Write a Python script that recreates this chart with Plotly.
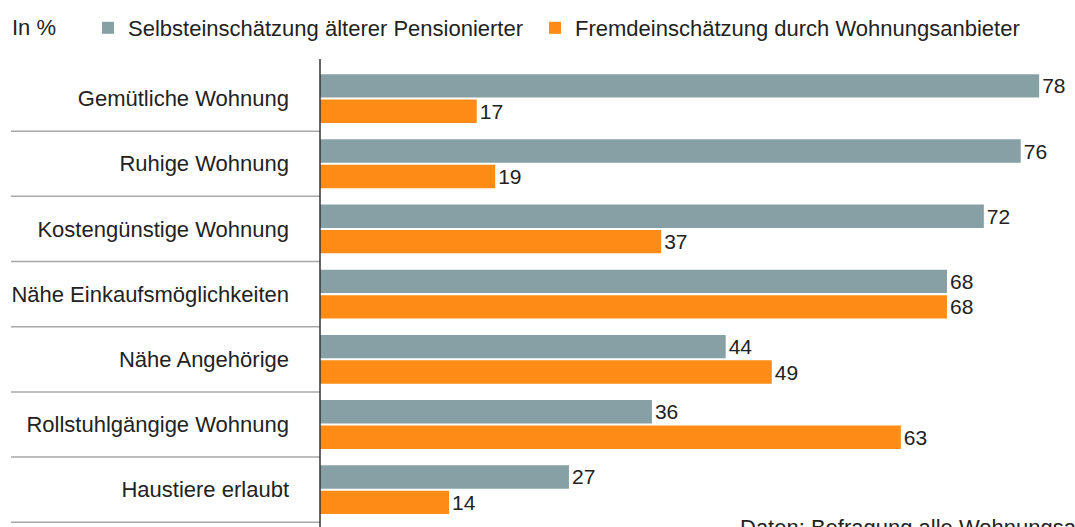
import plotly.graph_objects as go

categories = [
    "Gemütliche Wohnung",
    "Ruhige Wohnung",
    "Kostengünstige Wohnung",
    "Nähe Einkaufsmöglichkeiten",
    "Nähe Angehörige",
    "Rollstuhlgängige Wohnung",
    "Haustiere erlaubt",
]
selbst = [78, 76, 72, 68, 44, 36, 27]
fremd = [17, 19, 37, 68, 49, 63, 14]
series_names = [
    "Selbsteinschätzung älterer Pensionierter",
    "Fremdeinschätzung durch Wohnungsanbieter",
]

GRAY = "#87A0A6"
ORANGE = "#FF8C17"
TEXT = "#222222"
FONT = "Liberation Sans, Arial, sans-serif"

W, H = 1075, 527
ML, MR, MT, MB = 320, 0, 66, 4
plot_w = W - ML - MR
plot_h = H - MT - MB
px_per_unit = 9.22

fig = go.Figure()
for name, vals, col, lg in [(series_names[0], selbst, GRAY, "legend"),
                            (series_names[1], fremd, ORANGE, "legend2")]:
    fig.add_trace(go.Bar(
        y=categories, x=vals, name=name, orientation="h",
        marker=dict(color=col, line=dict(width=0)),
        text=vals, texttemplate="%{x}", textposition="outside",
        textfont=dict(family=FONT, size=21, color=TEXT),
        cliponaxis=False, legend=lg,
    ))

shapes = []
for i in range(len(categories)):
    shapes.append(dict(type="line", xref="paper", yref="y",
                       x0=-309 / plot_w, x1=0, y0=i + 0.5, y1=i + 0.5,
                       line=dict(color="#a8a8a8", width=1.5)))
shapes.append(dict(type="line", xref="paper", yref="paper",
                   x0=0, x1=0, y0=(H - MB - 527) / plot_h, y1=(H - MB - 59) / plot_h,
                   line=dict(color="#333333", width=1.5)))

legend_common = dict(orientation="h", xanchor="left",
                     y=(H - MB - 28) / plot_h, yanchor="middle",
                     font=dict(family=FONT, size=22, color=TEXT),
                     bgcolor="rgba(0,0,0,0)")

fig.update_layout(
    width=W, height=H,
    margin=dict(l=ML, r=MR, t=MT, b=MB, pad=0),
    paper_bgcolor="white", plot_bgcolor="white",
    barmode="group", bargap=0.22, bargroupgap=0.08,
    font=dict(family=FONT, size=22, color=TEXT),
    showlegend=True,
    legend=dict(x=(88 - ML) / plot_w, **legend_common),
    legend2=dict(x=(535 - ML) / plot_w, **legend_common),
    xaxis=dict(range=[0, plot_w / px_per_unit], showgrid=False, zeroline=False,
               showticklabels=False, showline=False, fixedrange=True),
    yaxis=dict(autorange="reversed", showgrid=False, zeroline=False, showline=False,
               ticks="", ticklabelstandoff=30,
               tickfont=dict(family=FONT, size=22, color=TEXT), fixedrange=True),
    shapes=shapes,
    annotations=[
        dict(text="In %", xref="paper", yref="paper",
             x=(10 - ML) / plot_w, y=(H - MB - 28) / plot_h,
             xanchor="left", yanchor="middle", showarrow=False,
             font=dict(family=FONT, size=22, color=TEXT)),
        dict(text="Daten: Befragung alle Wohnungsanbieter", xref="paper", yref="paper",
             x=(738 - ML) / plot_w, y=(H - MB - 513) / plot_h,
             xanchor="left", yanchor="top", showarrow=False,
             font=dict(family=FONT, size=22, color=TEXT)),
    ],
)

fig.write_html("out.html")
